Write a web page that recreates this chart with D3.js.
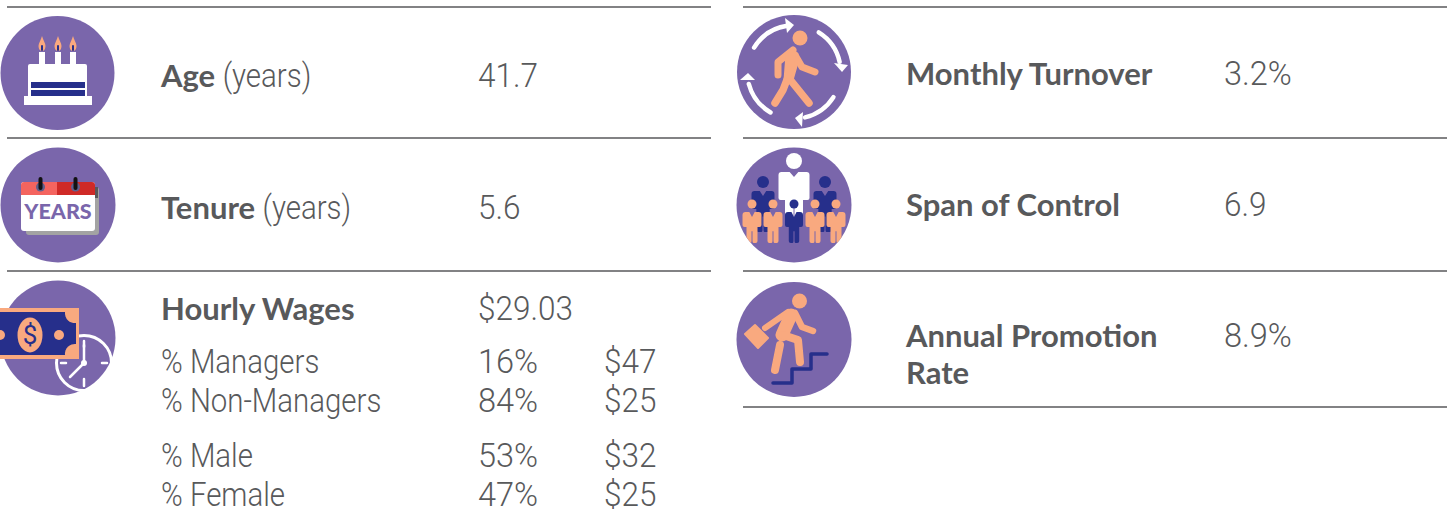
<!DOCTYPE html>
<html><head><meta charset="utf-8">
<script src="https://cdn.jsdelivr.net/npm/d3@7"></script>
<style>html,body{margin:0;background:#fff}svg{display:block}text{fill:#58595b}.b{font-family:Lato,sans-serif;font-weight:700}.r{font-family:Roboto,sans-serif;font-weight:300}</style>
</head><body><svg id="c" width="1452" height="518"></svg>
<script>
const leftLabels=[["Age","(years)"],["Tenure","(years)"],["Hourly Wages",""]];
const leftValues=["41.7","5.6","$29.03"];
const wageGroups=["% Managers","% Non-Managers","% Male","% Female"];
const wageShares=["16%","84%","53%","47%"];
const wageAmounts=["$47","$25","$32","$25"];
const rightLabels=[["Monthly Turnover"],["Span of Control"],["Annual Promotion","Rate"]];
const rightValues=["3.2%","6.9","8.9%"];

const PURPLE="#7a66ab",NAVY="#262f8b",PEACH="#f9a97f",GREY="#58595b";
const svg=d3.select("#c");
const defs=svg.append("defs");

function rules(x1,x2,ys){ys.forEach(y=>svg.append("line").attr("x1",x1).attr("x2",x2).attr("y1",y).attr("y2",y).attr("stroke",GREY).attr("stroke-width",1.3));}
rules(7,711,[7,138,271]);rules(743,1447,[7,138,271,407]);

const FS=31,FR=32.5,LABEL_SQUEEZE=0.905,VALUE_SQUEEZE=0.97;
function bold(x,y,s){return svg.append("text").attr("class","b").attr("x",x).attr("y",y).attr("font-size",FS).text(s);}
function light(x,y,s,k){return svg.append("text").attr("class","r").attr("transform",`translate(${x},${y}) scale(${k},1)`).attr("font-size",FR).text(s);}
const valueK=s=>s.endsWith("%")?1:VALUE_SQUEEZE;
const lx=161,vx=478,ax=604;
[87,219,320].forEach((y,i)=>{
 const b=bold(lx,y,leftLabels[i][0]);
 if(leftLabels[i][1])light(lx+b.node().getComputedTextLength()+7.5,y,leftLabels[i][1],LABEL_SQUEEZE);
 light(vx,y,leftValues[i],valueK(leftValues[i]));
});
[373,412,467,506].forEach((y,i)=>{
 light(lx,y,wageGroups[i],LABEL_SQUEEZE);light(vx,y,wageShares[i],valueK(wageShares[i]));light(ax,y,wageAmounts[i],VALUE_SQUEEZE);
});
const rx=906,rv=1224;
bold(rx,85,rightLabels[0][0]);light(rv,85,rightValues[0],valueK(rightValues[0]));
bold(rx,216,rightLabels[1][0]);light(rv,216,rightValues[1],valueK(rightValues[1]));
bold(rx,347,rightLabels[2][0]);bold(rx,384,rightLabels[2][1]);light(rv,347,rightValues[2],valueK(rightValues[2]));

function disc(cx,cy,r,id){
 svg.append("circle").attr("cx",cx).attr("cy",cy).attr("r",r).attr("fill",PURPLE);
 defs.append("clipPath").attr("id",id).append("circle").attr("cx",cx).attr("cy",cy).attr("r",r);
 return svg.append("g").attr("clip-path",`url(#${id})`);
}
const R=(g,x,y,w,h,f,r)=>g.append("rect").attr("x",x).attr("y",y).attr("width",w).attr("height",h).attr("fill",f).attr("rx",r||0);
const C=(g,x,y,r,f)=>g.append("circle").attr("cx",x).attr("cy",y).attr("r",r).attr("fill",f);
const P=(g,d,f,s,w)=>g.append("path").attr("d",d).attr("fill",f||"none").attr("stroke",s||"none").attr("stroke-width",w||0).attr("stroke-linecap","round").attr("stroke-linejoin","round");

// cake
{const g=disc(57.5,73,57,"a");
 R(g,24,96,68,9,"#fff");R(g,28,64,59,34,"#fff",2);
 R(g,31,82,54,6,NAVY);R(g,31,90,54,6,NAVY);
 [42,58,73].forEach(x=>{R(g,x-3,52,6,12,"#fff");
  P(g,`M${x},36C${x+1},40 ${x+3.5},43 ${x+3.5},46C${x+3.5},49 ${x+2},51 ${x},51C${x-2},51 ${x-3.5},49 ${x-3.5},46C${x-3.5},43 ${x-1},40 ${x},36Z`,PEACH);
  R(g,x-1,45,2,6,NAVY,1);});
}
// calendar
{const g=disc(58,205,57.5,"b");
 R(g,26,187,73,48,"#a3a3a3",3);
 R(g,21,182,74,49,"#fff",3);
 P(g,"M21,195V185a3,3 0 0 1 3,-3H57V195Z","#f4645f");
 P(g,"M57,182H92a3,3 0 0 1 3,3V195H57Z","#cf2a27");
 P(g,"M95,187h3v11h-3Z","#58595b");
 [40.5,75.5].forEach(x=>{C(g,x,187,4.5,"#5f5f8c");R(g,x-2,177,4,13,"#111",2);});
 g.append("text").attr("class","b").attr("x",58).attr("y",218.5).attr("text-anchor","middle").attr("font-size",21.5).style("font-weight",900).style("fill",PURPLE).text("YEARS");
}
// money + clock
{const g=disc(58,338,57.5,"c");
 const cg=g.append("g");
 cg.append("circle").attr("cx",84).attr("cy",363).attr("r",27.5).attr("fill","none").attr("stroke","#fff").attr("stroke-width",3);
 [[84,341,84,347],[84,379,84,386],[61,363,66,363],[102,363,107,363]].forEach(l=>P(cg,`M${l[0]},${l[1]}L${l[2]},${l[3]}`,null,"#fff",2.5));
 P(cg,"M84,345V363L70,377",null,"#fff",2.5);C(cg,84,363,3,"#fff");
 R(g,0,308,79,51,PEACH);
 R(g,0,312,76,43,NAVY);
 P(g,"M76,312V323A10,10 0 0 1 65,312Z",PEACH);
 P(g,"M76,355V344A10,10 0 0 0 65,355Z",PEACH);
 g.append("ellipse").attr("cx",30).attr("cy",335).attr("rx",12.5).attr("ry",17.5).attr("fill",PEACH);
 C(g,59,335,5,PEACH);C(g,0,335,5,PEACH);
 g.append("text").attr("class","r").attr("x",30).attr("y",344).attr("text-anchor","middle").attr("font-size",26).style("font-weight",400).style("fill",NAVY).text("$");
}
// walker with cycle arrows
{const g=disc(794,72,57,"d");
 const arc=d3.arc().innerRadius(44.5).outerRadius(49).cornerRadius(2.2);
 const ag=g.append("g").attr("transform","translate(794,72)");
 [[-1.07,-0.1],[0.51,1.4],[2.09,2.95],[3.62,4.5]].forEach(([a0,a1])=>{
  ag.append("path").attr("d",arc({startAngle:a0,endAngle:a1})).attr("fill","#fff");
 });
 P(g,"M785,18L794,25L787,33Z","#fff");
 P(g,"M834,63L848,65L842,72Z","#fff");
 P(g,"M795,118L803,112L802,127Z","#fff");
 P(g,"M740,80L748,73L755,80Z","#fff");
 C(g,800,38,7.5,PEACH);
 P(g,"M793,50L778,62L778,75",null,PEACH,7);
 P(g,"M795,55L802,67L815,72",null,PEACH,7);
 P(g,"M788,77L783,90L775,103",null,PEACH,7.5);
 P(g,"M788,77L809,103",null,PEACH,7.5);
 P(g,"M787,54H797L796,66L792,80H785Z",PEACH,PEACH,3);
}
// span of control
{const g=disc(794,205,57.5,"e");
 const person=(x,top,w,h,col,armH)=>{
  const l=x-w/2,rr=x+w/2,lw=w*0.29;
  P(g,`M${l+3},${top}H${x-w*0.14}L${x},${top+5}L${x+w*0.14},${top}H${rr-3}Q${rr},${top} ${rr},${top+3}V${top+armH}Q${rr},${top+armH+2} ${rr-2},${top+armH+2}H${x+lw}V${top+h-2}Q${x+lw},${top+h} ${x+lw-2},${top+h}H${x+1.5}Q${x+.5},${top+h} ${x+.5},${top+h-2}V${top+h*0.62}H${x-.5}V${top+h-2}Q${x-.5},${top+h} ${x-1.5},${top+h}H${x-lw+2}Q${x-lw},${top+h} ${x-lw},${top+h-2}V${top+armH+2}H${l+2}Q${l},${top+armH+2} ${l},${top+armH}V${top+3}Q${l},${top} ${l+3},${top}Z`,col);
 };
 [[763,NAVY],[825,NAVY]].forEach(([x,c])=>{C(g,x,182,6,c);person(x,191,23,41,c,16);});
 C(g,794,161,8,"#fff");person(794,172,31,50,"#fff",26);
 C(g,794,204,4.5,NAVY);person(794,212,18,31,NAVY,13);
 [752,773,815,836].forEach(x=>{C(g,x,204,4.5,PEACH);person(x,212,19,31,PEACH,13);});
}
// promotion
{const g=disc(794,339.5,57.5,"f");
 P(g,"M773,383H792V369H811V354H827",null,NAVY,3.5);
 C(g,799.5,301,7.5,PEACH);
 P(g,"M788,312L765,328",null,PEACH,6);
 P(g,"M795,313L802,327L813,331",null,PEACH,6.5);
 P(g,"M791,315L782,335",null,PEACH,13);
 P(g,"M783,335L798,340L800,362",null,PEACH,8);
 P(g,"M780,345L775,370",null,PEACH,8);
 P(g,"M755,325L768,338L758,348L745,334Z",PEACH,PEACH,2);
}
</script></body></html>
